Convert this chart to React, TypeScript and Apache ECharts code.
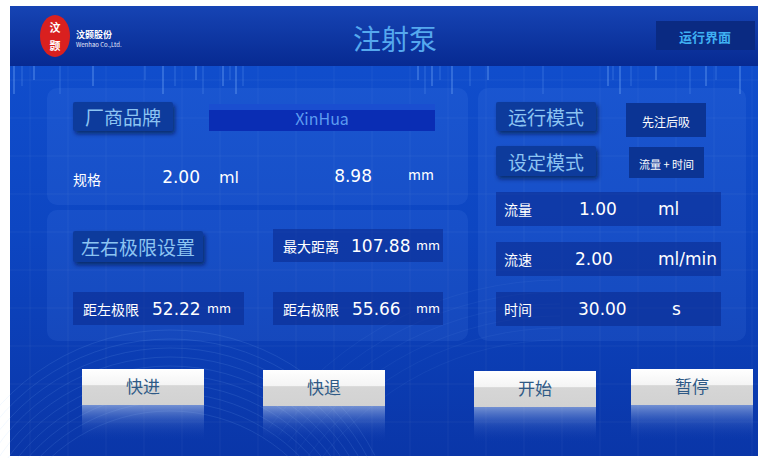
import React, { useEffect, useRef } from "react";
import * as echarts from "echarts";

const title = "注射泵";
const companyCn = "汶颢股份";
const companyEn = "Wenhao Co.,Ltd.";
const navLabel = "运行界面";

const brandLabel = "厂商品牌";
const brandValue = "XinHua";
const specLabel = "规格";
const specVolume = "2.00";
const specVolumeUnit = "ml";
const specDiameter = "8.98";
const specDiameterUnit = "mm";

const limitTitle = "左右极限设置";
const limitLabels = ["最大距离", "距左极限", "距右极限"];
const limitValues = ["107.88", "52.22", "55.66"];
const limitUnits = ["mm", "mm", "mm"];

const modeLabels = ["运行模式", "设定模式"];
const modeValues = ["先注后吸", "流量 + 时间"];

const paramLabels = ["流量", "流速", "时间"];
const paramValues = ["1.00", "2.00", "30.00"];
const paramUnits = ["ml", "ml/min", "s"];

const buttonLabels = ["快进", "快退", "开始", "暂停"];

const FONT = "'Noto Sans CJK SC', 'Noto Sans', sans-serif";
const NUM = "'DejaVu Sans', 'Noto Sans', sans-serif";

function lin(stops: [number, string][], x2 = 0, y2 = 1) {
  return {
    type: "linear",
    x: 0,
    y: 0,
    x2,
    y2,
    colorStops: stops.map(([offset, color]) => ({ offset, color })),
  };
}

function titleBox(x: number, y: number, w: number, h: number, text: string, size = 19) {
  return [
    {
      type: "rect",
      shape: { x, y, width: w, height: h, r: 2 },
      style: {
        fill: "#0b3a9c",
        shadowBlur: 4,
        shadowOffsetX: 2,
        shadowOffsetY: 3,
        shadowColor: "rgba(0,10,50,0.6)",
      },
    },
    {
      type: "text",
      x: x + w / 2,
      y: y + h / 2,
      style: {
        text,
        fill: "#8cc4f2",
        font: `${size}px ${FONT}`,
        align: "center",
        verticalAlign: "middle",
      },
    },
  ];
}

function cell(x: number, y: number, w: number, h: number) {
  return {
    type: "rect",
    shape: { x, y, width: w, height: h },
    style: { fill: "rgba(10,40,140,0.55)" },
  };
}

function txt(x: number, y: number, text: string, size: number, fill = "#ffffff", align = "left", family = FONT) {
  return {
    type: "text",
    x,
    y,
    style: { text, fill, font: `${size}px ${family}`, align, verticalAlign: "middle" },
  };
}

export default function App() {
  const ref = useRef<HTMLDivElement>(null);
  useEffect(() => {
    if (!ref.current) return;
    const chart = echarts.init(ref.current, undefined, { renderer: "svg" });
    const els: any[] = [];

    // main background
    els.push({
      type: "rect",
      shape: { x: 10, y: 6, width: 748, height: 450 },
      style: { fill: lin([[0, "#1150d0"], [0.5, "#0d46c2"], [1, "#0a36a8"]]) },
    });
    // grid lines
    for (let gx = 30; gx < 758; gx += 38) {
      els.push({
        type: "line",
        shape: { x1: gx, y1: 66, x2: gx, y2: 456 },
        style: { stroke: "rgba(255,255,255,0.05)", lineWidth: 1 },
      });
    }
    for (let gy = 80; gy < 456; gy += 38) {
      els.push({
        type: "line",
        shape: { x1: 10, y1: gy, x2: 758, y2: gy },
        style: { stroke: "rgba(255,255,255,0.05)", lineWidth: 1 },
      });
    }
    // decorative vertical streaks near top
    const streaks = [14, 22, 34, 60, 93, 145, 163, 175, 196, 203, 223, 230, 236, 243, 418, 425, 432, 440, 452, 470, 488, 543, 608, 613, 620, 631, 656, 690, 706, 716, 740];
    streaks.forEach((sx, i) => {
      els.push({
        type: "line",
        shape: { x1: sx, y1: 66, x2: sx, y2: 66 + (i % 3 === 0 ? 28 : i % 3 === 1 ? 20 : 14) },
        style: { stroke: "rgba(140,190,255,0.28)", lineWidth: i % 2 ? 1 : 2 },
      });
    });
    // arcs at bottom-left
    for (let k = 0; k < 10; k++) {
      els.push({
        type: "arc",
        shape: { cx: 170, cy: 560 + k * 3, r: 230 - k * 6, startAngle: Math.PI * 1.15, endAngle: Math.PI * 1.85 },
        style: { stroke: "rgba(150,200,255,0.12)", lineWidth: 1, fill: "none" },
      });
    }
    for (let k = 0; k < 6; k++) {
      els.push({
        type: "arc",
        shape: { cx: 560, cy: 640, r: 300 + k * 12, startAngle: Math.PI * 1.2, endAngle: Math.PI * 1.5 },
        style: { stroke: "rgba(150,200,255,0.06)", lineWidth: 1, fill: "none" },
      });
    }

    // header
    els.push({
      type: "rect",
      shape: { x: 10, y: 6, width: 748, height: 60 },
      style: { fill: lin([[0, "#1644b4"], [1, "#072a92"]]) },
    });
    // logo
    els.push({
      type: "ellipse",
      shape: { cx: 55, cy: 36, rx: 15, ry: 21 },
      style: { fill: "#d9201f" },
    });
    els.push({ type: "text", x: 55, y: 27, style: { text: "汶", fill: "#ffffff", font: `bold 11px ${FONT}`, align: "center", verticalAlign: "middle" } });
    els.push({ type: "text", x: 55, y: 45, style: { text: "颢", fill: "#ffffff", font: `bold 11px ${FONT}`, align: "center", verticalAlign: "middle" } });
    els.push({ type: "text", x: 76, y: 34, style: { text: companyCn, fill: "#ffffff", font: `bold 9px ${FONT}`, verticalAlign: "middle" } });
    els.push({ type: "text", x: 76, y: 44, style: { text: companyEn, fill: "#e8eefc", font: `6px ${FONT}`, verticalAlign: "middle" } });
    // title
    els.push({
      type: "text",
      x: 395,
      y: 38,
      style: { text: title, fill: "#55a8ee", font: `28px ${FONT}`, align: "center", verticalAlign: "middle" },
    });
    // nav button
    els.push({
      type: "rect",
      shape: { x: 656, y: 21, width: 99, height: 29 },
      style: { fill: "#0a2a82" },
    });
    els.push({
      type: "text",
      x: 705,
      y: 36,
      style: { text: navLabel, fill: "#3fb0f2", font: `bold 13px ${FONT}`, align: "center", verticalAlign: "middle" },
    });

    // panels
    const panels = [
      [47, 88, 421, 117],
      [47, 210, 421, 131],
      [478, 88, 268, 253],
    ];
    panels.forEach(([x, y, w, h]) => {
      els.push({
        type: "rect",
        shape: { x, y, width: w, height: h, r: 10 },
        style: { fill: "rgba(120,170,255,0.1)" },
      });
    });

    // brand
    els.push(...titleBox(73, 102, 100, 29, brandLabel));
    els.push({
      type: "rect",
      shape: { x: 209, y: 104, width: 226, height: 27 },
      style: { fill: lin([[0, "#1a4ed0"], [0.22, "#1a4ed0"], [0.23, "#0a2db4"], [1, "#0a2db4"]]) },
    });
    els.push(txt(322, 118, brandValue, 16, "#5d9cf0", "center"));
    // spec
    els.push(txt(73, 179, specLabel, 14));
    els.push(txt(200, 177, specVolume, 17, "#ffffff", "right", NUM));
    els.push(txt(219, 177, specVolumeUnit, 16, "#ffffff", "left", NUM));
    els.push(txt(372, 176, specDiameter, 17, "#ffffff", "right", NUM));
    els.push(txt(408, 174, specDiameterUnit, 14, "#ffffff", "left", FONT));

    // limits
    els.push(...titleBox(73, 231, 130, 31, limitTitle));
    const limitCells = [
      [273, 229, 170, 33],
      [73, 292, 171, 33],
      [273, 292, 170, 33],
    ];
    limitCells.forEach(([x, y, w, h], i) => {
      els.push(cell(x, y, w, h));
      const cy = y + h / 2;
      els.push(txt(x + 10, cy, limitLabels[i], 14));
      els.push(txt(x + (i === 0 ? 78 : 79), cy, limitValues[i], 17, "#ffffff", "left", NUM));
      els.push(txt(x + (i === 1 ? 134 : 143), cy - 1, limitUnits[i], 13, "#ffffff", "left", FONT));
    });

    // modes
    els.push(...titleBox(496, 102, 100, 29, modeLabels[0]));
    els.push(...titleBox(496, 146, 100, 30, modeLabels[1]));
    const modeCells = [
      [626, 103, 80, 34, 12],
      [629, 147, 75, 31, 11],
    ];
    modeCells.forEach(([x, y, w, h, fs], i) => {
      els.push({ type: "rect", shape: { x, y, width: w, height: h }, style: { fill: "#0b3494" } });
      els.push(txt(x + w / 2, y + h / 2 + 1, modeValues[i], fs, "#ffffff", "center"));
    });

    // params
    const paramY = [192, 242, 292];
    paramY.forEach((y, i) => {
      els.push(cell(496, y, 225, 34));
      const cy = y + 17;
      els.push(txt(504, cy, paramLabels[i], 14));
      els.push(txt(i === 0 ? 579 : i === 1 ? 575 : 578, cy, paramValues[i], 17, "#ffffff", "left", NUM));
      els.push(txt(i === 2 ? 672 : 658, cy, paramUnits[i], 17, "#ffffff", "left", NUM));
    });

    // buttons
    const btnPos = [
      [82, 369],
      [263, 370],
      [474, 371],
      [631, 369],
    ];
    btnPos.forEach(([x, y], i) => {
      const w = 122;
      const h = 36;
      els.push({
        type: "rect",
        shape: { x: x, y: y + h, width: w, height: 36 },
        style: { fill: lin([[0, "rgba(200,215,240,0.55)"], [0.5, "rgba(120,150,220,0.2)"], [1, "rgba(20,60,180,0)"]]) },
      });
      els.push({
        type: "rect",
        shape: { x: x, y: y, width: w, height: h },
        style: { fill: lin([[0, "#ffffff"], [0.45, "#f4f4f4"], [0.46, "#d6d6d6"], [1, "#d2d2d2"]]) },
      });
      els.push(txt(x + w / 2, y + 16, buttonLabels[i], 17, "#2f5a86", "center"));
    });

    chart.setOption({ animation: false, graphic: { elements: els } });
    return () => chart.dispose();
  }, []);

  return (
    <div
      ref={ref}
      style={{ position: "fixed", left: 0, top: 0, width: 768, height: 458, background: "#ffffff" }}
    />
  );
}
